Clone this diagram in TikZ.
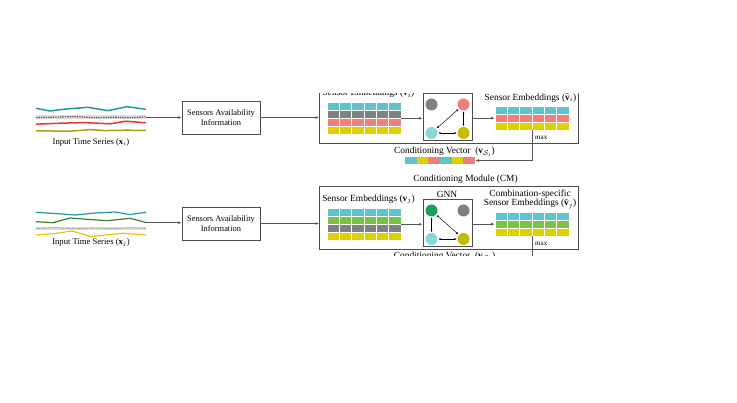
\documentclass[tikz,border=0pt]{standalone}
\usepackage{amsmath}
\usepackage{fontspec}
\setmainfont{Liberation Serif}
\usepackage{tikz}
\usepackage{xcolor}
\usetikzlibrary{positioning, arrows.meta, calc}
\definecolor{cFrame}    {HTML}{4D4D4D}
\definecolor{cArrow}    {HTML}{555555}
\definecolor{cTeal}     {HTML}{5CC4CA}
\definecolor{cGrey}     {HTML}{808080}
\definecolor{cSalmon}   {HTML}{F27E76}
\definecolor{cMustard}  {HTML}{E1D000}
\definecolor{cLeaf}     {HTML}{7BC143}
\definecolor{cNodeCyan} {HTML}{8DD4D4}
\definecolor{cNodeOlive}{HTML}{C9B900}
\definecolor{cNodeGreen}{HTML}{17A25B}
\definecolor{cLineTeal} {HTML}{1F9AA0}
\definecolor{cLineRed}  {HTML}{E8362F}
\definecolor{cLineOlive}{HTML}{B39B14}
\definecolor{cLineGreen}{HTML}{3F7D34}
\definecolor{cLineYellow}{HTML}{F0C200}
\definecolor{cBand}     {HTML}{DDDDDD}
\definecolor{cDots}     {HTML}{555555}
\tikzset{
  flow/.style={draw=cArrow, line width=0.7pt, -{Latex[length=3.6pt,width=2.8pt]}},
  link/.style={draw=black, line width=0.45pt,
    {Latex[length=2.4pt,width=2pt]}-{Latex[length=2.4pt,width=2pt]},
    shorten <=0.6pt, shorten >=0.6pt},
  infobox/.style={draw=cFrame, line width=0.7pt, minimum width=78pt,
    minimum height=33pt, align=center, inner sep=1pt,
    font=\fontsize{8.4}{9.6}\selectfont},
  modbox/.style={draw=cFrame, line width=0.8pt, inner sep=0pt},
  gnnbox/.style={draw=cFrame, line width=0.8pt, minimum width=49pt,
    minimum height=47pt, inner sep=0pt},
  gridbox/.style={inner sep=0pt, minimum width=74pt},
  gnode/.style={circle, inner sep=0pt, minimum size=12pt},
  cell/.style={draw=white, line width=0.6pt},
  tsline/.style={line width=1.5pt, line join=round},
  dots/.style={draw=cDots, line width=1.1pt, dash pattern=on 1.4pt off 1pt},
  lbl/.style={font=\fontsize{9.4}{9.6}\selectfont, inner sep=0pt, align=center},
  small/.style={font=\fontsize{8.6}{9.6}\selectfont, inner sep=0pt},
  tiny/.style={font=\fontsize{7}{8}\selectfont, inner sep=0pt},
}
\begin{document}
\begin{tikzpicture}[x=1pt, y=-1pt]
  \useasboundingbox (0,0) rectangle (737,403);

  % first series x_i
  \begin{scope}
    \clip (0,93.5) rectangle (737,170);
    \draw[tsline, cLineTeal] (36,108.3) -- (50,111) -- (63,109.3) -- (88,107.3)
      -- (108,110.7) -- (127,106.7) -- (146,109.3);
    \draw[cBand, line width=3.4pt] (36,117.2) -- (146,117.2);
    \draw[dots] (36,117.6) -- (55,117.2) -- (75,116.6) -- (95,117.8)
      -- (115,117.2) -- (130,117.8) -- (146,116.8);
    \draw[tsline, cLineRed] (36,124.2) -- (60,123.2) -- (85,122.6)
      -- (110,123.8) -- (126,121.2) -- (146,122.8);
    \draw[tsline, cLineOlive] (36,130.8) -- (70,131.2) -- (90,129.6)
      -- (105,130.6) -- (125,130.2) -- (146,130.4);
    \coordinate (ts-i) at (146,117.5);
    \node[small] (tslbl-i) at (91,142.3) {Input Time Series ($\mathbf{x}_i$)};

    \node[infobox] (sa-i) at (221,117.5) {Sensors Availability\\Information};
    \node[modbox, minimum width=258.5pt, minimum height=63.5pt] (cm-i) at (448.75,111.75) {};

    \node[gridbox, minimum height=31.6pt] (emb-i) at (364,118.3) {};
    \foreach \rc [count=\r from 0] in {cTeal,cGrey,cSalmon,cMustard}{
      \foreach \c in {0,...,5}{
        \filldraw[cell, fill=\rc] (327+\c*12.33, 102.5+\r*7.9) rectangle ++(12.33,7.9);
      }
    }
    \node[lbl] (embl-i) at (368.5,93.3) {Sensor Embeddings ($\mathbf{v}_i$)};

    \node[gnnbox] (gnn-i) at (447.5,116.5) {};
    \node[gnode, fill=cGrey] (n1-i) at (431.5,104.5) {};
    \node[gnode, fill=cSalmon] (n2-i) at (463.5,104.5) {};
    \node[gnode, fill=cNodeCyan] (n3-i) at (431.5,133) {};
    \node[gnode, fill=cNodeOlive] (n4-i) at (463.5,133) {};
    \draw[link] (n3-i) -- (n2-i);
    \draw[link] (n2-i) -- (n4-i);
    \draw[link] (n3-i) -- (n4-i);

    \node[gridbox, minimum height=24.3pt] (tilde-i) at (532,118.15) {};
    \foreach \rc [count=\r from 0] in {cTeal,cSalmon,cMustard}{
      \foreach \c in {0,...,5}{
        \filldraw[cell, fill=\rc] (495+\c*12.33, 106+\r*8.1) rectangle ++(12.33,8.1);
      }
    }
    \node[lbl] (tildel-i) at (530.5,98) {Sensor Embeddings ($\tilde{\mathbf{v}}_i$)};
    \node[tiny, anchor=west] (max-i) at (535,137.5) {max};

    \node[inner sep=0pt, minimum width=70pt, minimum height=7.6pt] (vec-i) at (440,160.5) {};
    \foreach \rc [count=\c from 0] in {cTeal,cMustard,cSalmon,cTeal,cMustard,cSalmon}{
      \fill[\rc] (405+\c*11.67, 156.7) rectangle ++(11.67,7.6);
    }
    \node[lbl] (vecl-i) at (444.5,151.5) {Conditioning Vector~ ($\mathbf{v}_{\mathcal{S}_i}$)};

    \draw[flow] (ts-i) -- (ts-i -| sa-i.west);
    \draw[flow] (sa-i.east) -- (sa-i.east -| cm-i.west);
    \draw[flow] (emb-i.east) -- (emb-i.east -| gnn-i.west);
    \draw[flow] (gnn-i.east |- tilde-i.west) -- (tilde-i.west);
    \draw[flow] (tilde-i.south) |- (vec-i.east);
  \end{scope}

  % second series x_j
  \begin{scope}
    \clip (0,170) rectangle (737,256);
    \draw[tsline, cLineTeal, line width=1.2pt] (36,212.3) -- (55,213.5) -- (75,215)
      -- (95,213) -- (115,212) -- (130,214.6) -- (146,212.3);
    \draw[tsline, cLineGreen, line width=1.2pt] (36,221.7) -- (53,222.7) -- (70,218)
      -- (90,219.5) -- (107,220.7) -- (130,218.3) -- (143,221.7) -- (146,222.7);
    \draw[cBand, line width=3.2pt] (36,228.3) -- (146,228.3);
    \draw[dots, cDots!60, line width=0.9pt] (36,228.6) -- (55,227.6) -- (75,228.8) -- (95,228)
      -- (115,228.6) -- (130,227.8) -- (146,228.4);
    \draw[tsline, cLineYellow, line width=1.2pt] (36,235) -- (55,233.5) -- (71.7,231)
      -- (91.7,236.7) -- (105,235) -- (123,233.3) -- (146,235);
    \coordinate (ts-j) at (146,222.7);
    \node[small] (tslbl-j) at (91,243) {Input Time Series ($\mathbf{x}_j$)};

    \begin{scope}[shift={(0,106)}]
      \node[infobox] (sa-j) at (221,117.5) {Sensors Availability\\Information};
      \node[modbox, minimum width=258.5pt, minimum height=63.5pt] (cm-j) at (448.75,111.75) {};
      \node[lbl, anchor=south] (cml-j) at (465.5,78) {Conditioning Module (CM)};

      \node[gridbox, minimum height=31.6pt] (emb-j) at (364,118.3) {};
      \foreach \rc [count=\r from 0] in {cTeal,cLeaf,cGrey,cMustard}{
        \foreach \c in {0,...,5}{
          \filldraw[cell, fill=\rc] (327+\c*12.33, 102.5+\r*7.9) rectangle ++(12.33,7.9);
        }
      }
      \node[lbl] (embl-j) at (368.5,93.3) {Sensor Embeddings ($\mathbf{v}_j$)};

      \node[gnnbox] (gnn-j) at (447.5,116.5) {};
      \node[lbl] (gnnl-j) at (447,88) {GNN};
      \node[gnode, fill=cNodeGreen] (n1-j) at (431.5,104.5) {};
      \node[gnode, fill=cGrey] (n2-j) at (463.5,104.5) {};
      \node[gnode, fill=cNodeCyan] (n3-j) at (431.5,133) {};
      \node[gnode, fill=cNodeOlive] (n4-j) at (463.5,133) {};
      \draw[link] (n1-j) -- (n3-j);
      \draw[link] (n1-j) -- (n4-j);
      \draw[link] (n3-j) -- (n4-j);

      \node[gridbox, minimum height=24.3pt] (tilde-j) at (532,118.15) {};
      \foreach \rc [count=\r from 0] in {cTeal,cLeaf,cMustard}{
        \foreach \c in {0,...,5}{
          \filldraw[cell, fill=\rc] (495+\c*12.33, 106+\r*8.1) rectangle ++(12.33,8.1);
        }
      }
      \node[lbl] (tildel-j) at (530,93.3) {Combination-specific\\Sensor Embeddings ($\tilde{\mathbf{v}}_j$)};
      \node[tiny, anchor=west] (max-j) at (535,137.5) {max};
      \coordinate (mx-j) at (532,160.5);
      \node[lbl] (vecl-j) at (444.5,151.5) {Conditioning Vector~ ($\mathbf{v}_{\mathcal{S}_j}$)};

      \draw[flow] (sa-j.east) -- (sa-j.east -| cm-j.west);
      \draw[flow] (emb-j.east) -- (emb-j.east -| gnn-j.west);
      \draw[flow] (gnn-j.east |- tilde-j.west) -- (tilde-j.west);
      \draw[draw=cArrow, line width=0.7pt] (tilde-j.south) -- (mx-j);
    \end{scope}
    \draw[flow] (ts-j) -- (ts-j -| sa-j.west);
  \end{scope}
\end{tikzpicture}
\end{document}
